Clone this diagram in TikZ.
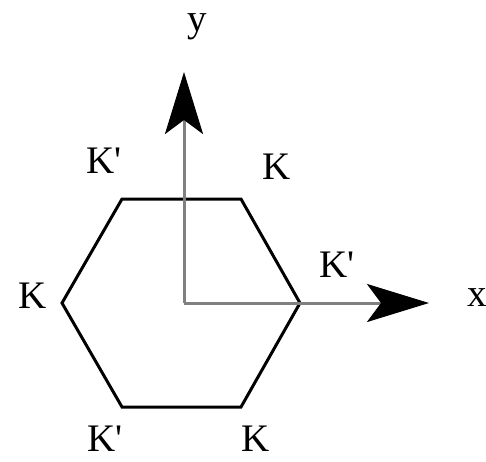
\documentclass[tikz,border=0pt]{standalone}
\usepackage{fontspec}
\setmainfont{Liberation Serif}
\usetikzlibrary{arrows.meta}
\definecolor{achse}{HTML}{808080}
\tikzset{
  ax/.style={-{Stealth[length=31pt,width=19pt,inset=7pt,color=black]},achse,line width=1.5pt},
  hex/.style={black,line width=1.5pt,line join=miter},
  lab/.style={font=\fontsize{19.5}{22}\selectfont,inner sep=0pt},
}
\begin{document}
\begin{tikzpicture}[x=0.5pt,y=-0.5pt]
  \useasboundingbox (0,0) rectangle (486,461);
  % hexagon corners
  \coordinate (o) at (184,303);
  \coordinate (r) at (300,303);
  \coordinate (tr) at (241,199);
  \coordinate (tl) at (122,199);
  \coordinate (l) at (62,303);
  \coordinate (bl) at (122,407);
  \coordinate (br) at (241,407);
  \coordinate (xend) at (429,303);
  \coordinate (yend) at (184,72);
  \draw[hex] (r) -- (tr) -- (tl) -- (l) -- (bl) -- (br) -- cycle;
  % axes
  \draw[ax] (o) -- (xend);
  \draw[ax] (o) -- (yend);
  \node[lab] (ylab) at (197,27) {y};
  \node[lab] (xlab) at (477,298) {x};
  % valleys
  \node[lab] (ktl) at (104,161) {K\textquotesingle};
  \node[lab] (ktr) at (277,167) {K};
  \node[lab] (kr) at (337,265) {K\textquotesingle};
  \node[lab] (kl) at (33,296) {K};
  \node[lab] (kbl) at (105,439) {K\textquotesingle};
  \node[lab] (kbr) at (256,439) {K};
\end{tikzpicture}
\end{document}
